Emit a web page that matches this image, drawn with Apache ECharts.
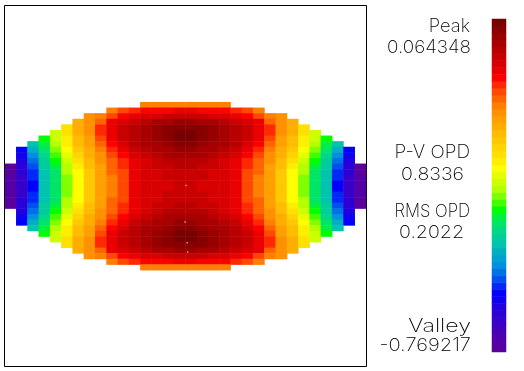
<!DOCTYPE html>
<html>
<head>
<meta charset="utf-8">
<title>OPD map</title>
<script src="https://cdn.jsdelivr.net/npm/echarts@6/dist/echarts.min.js"></script>
<style>
  html, body { margin: 0; padding: 0; background: #fff; }
  #chart { width: 524px; height: 371px; }
</style>
</head>
<body>
<div id="chart"></div>
<script>
// false colour bands, index 0 = valley, index 47 = peak
const bandColors = [
  '#5a009c', '#5400a6', '#4c00b0', '#4200bc', '#3800c8', '#2c00d4', '#2000e0', '#1000f0',
  '#0000ff', '#0028f8', '#0050f0', '#0070e8', '#0090e0', '#00a0d0', '#00b0c0', '#00c4b0',
  '#00cc9c', '#00d888', '#00e468', '#00f040', '#00ff00', '#40ff00', '#80ff00', '#b4ff00',
  '#ccff00', '#e4ff00', '#ffff00', '#ffee00', '#ffe000', '#ffd400', '#ffc800', '#ffbc00',
  '#ffae00', '#ffa000', '#ff9000', '#ff8000', '#ff6400', '#ff4800', '#ff2800', '#ff0000',
  '#ea0000', '#d80000', '#c80000', '#b80000', '#a80000', '#980000', '#880000', '#780000'
];

const gridCols = 32;
const gridRows = 64;
const firstRow = 17; // first row of the map that holds data

// first column filled in each data row
const rowStart = [12, 9, 7, 6, 5, 4, 3, 2, 1, 1, 1, 0, 0, 0, 0, 0, 0, 0, 0, 1, 1, 1, 2, 3, 4, 5, 6, 7, 9, 12];

// colour band of each filled cell
const rowBands = [
  [35, 35, 35, 35, 35, 35, 35, 35],
  [35, 37, 38, 39, 39, 39, 40, 40, 39, 39, 39, 38, 37, 35],
  [34, 35, 37, 39, 40, 41, 41, 42, 42, 42, 42, 41, 41, 40, 39, 37, 35, 34],
  [32, 34, 36, 40, 41, 42, 43, 44, 44, 45, 45, 44, 44, 43, 42, 41, 40, 36, 34, 32],
  [28, 32, 34, 38, 40, 42, 43, 44, 45, 46, 46, 46, 46, 45, 44, 43, 42, 40, 38, 34, 32, 28],
  [24, 28, 32, 34, 38, 40, 42, 43, 44, 45, 46, 47, 47, 46, 45, 44, 43, 42, 40, 38, 34, 32, 28, 24],
  [20, 24, 27, 31, 33, 37, 40, 42, 43, 44, 45, 46, 47, 47, 46, 45, 44, 43, 42, 40, 37, 33, 31, 27, 24, 20],
  [15, 19, 23, 27, 31, 33, 36, 39, 41, 43, 44, 44, 45, 46, 46, 45, 44, 44, 43, 41, 39, 36, 33, 31, 27, 23, 19, 15],
  [8, 14, 18, 22, 26, 30, 32, 35, 38, 40, 42, 43, 44, 44, 45, 45, 44, 44, 43, 42, 40, 38, 35, 32, 30, 26, 22, 18, 14, 8],
  [7, 12, 17, 21, 25, 29, 32, 34, 37, 39, 41, 42, 43, 44, 44, 44, 44, 43, 42, 41, 39, 37, 34, 32, 29, 25, 21, 17, 12, 7],
  [6, 11, 16, 20, 24, 28, 31, 34, 36, 38, 40, 41, 42, 43, 43, 43, 43, 42, 41, 40, 38, 36, 34, 31, 28, 24, 20, 16, 11, 6],
  [0, 5, 10, 16, 19, 23, 27, 31, 33, 36, 38, 40, 41, 42, 42, 43, 43, 42, 42, 41, 40, 38, 36, 33, 31, 27, 23, 19, 16, 10, 5, 0],
  [0, 5, 9, 15, 18, 23, 26, 30, 33, 36, 37, 40, 41, 41, 42, 42, 42, 42, 41, 41, 40, 37, 36, 33, 30, 26, 23, 18, 15, 9, 5, 0],
  [1, 4, 9, 15, 18, 22, 26, 30, 33, 35, 37, 40, 41, 41, 42, 42, 42, 42, 41, 41, 40, 37, 35, 33, 30, 26, 22, 18, 15, 9, 4, 1],
  [1, 4, 8, 15, 18, 22, 26, 30, 33, 35, 37, 40, 41, 41, 41, 42, 42, 41, 41, 41, 40, 37, 35, 33, 30, 26, 22, 18, 15, 8, 4, 1],
  [1, 4, 8, 15, 18, 22, 26, 30, 33, 35, 37, 40, 41, 41, 41, 42, 42, 41, 41, 41, 40, 37, 35, 33, 30, 26, 22, 18, 15, 8, 4, 1],
  [1, 4, 9, 15, 18, 22, 26, 30, 33, 35, 37, 40, 41, 41, 42, 42, 42, 42, 41, 41, 40, 37, 35, 33, 30, 26, 22, 18, 15, 9, 4, 1],
  [0, 5, 9, 15, 18, 23, 26, 30, 33, 36, 37, 40, 41, 41, 42, 42, 42, 42, 41, 41, 40, 37, 36, 33, 30, 26, 23, 18, 15, 9, 5, 0],
  [0, 5, 10, 16, 19, 23, 27, 31, 33, 36, 38, 40, 41, 42, 42, 43, 43, 42, 42, 41, 40, 38, 36, 33, 31, 27, 23, 19, 16, 10, 5, 0],
  [6, 11, 16, 20, 24, 28, 31, 34, 36, 38, 40, 41, 42, 43, 43, 43, 43, 42, 41, 40, 38, 36, 34, 31, 28, 24, 20, 16, 11, 6],
  [7, 12, 17, 21, 25, 29, 32, 34, 37, 39, 41, 42, 43, 44, 44, 44, 44, 43, 42, 41, 39, 37, 34, 32, 29, 25, 21, 17, 12, 7],
  [8, 14, 18, 22, 26, 30, 32, 35, 38, 40, 42, 43, 44, 44, 45, 45, 44, 44, 43, 42, 40, 38, 35, 32, 30, 26, 22, 18, 14, 8],
  [15, 19, 23, 27, 31, 33, 36, 39, 41, 43, 44, 44, 45, 46, 46, 45, 44, 44, 43, 41, 39, 36, 33, 31, 27, 23, 19, 15],
  [20, 24, 27, 31, 33, 37, 40, 42, 43, 44, 45, 46, 47, 47, 46, 45, 44, 43, 42, 40, 37, 33, 31, 27, 24, 20],
  [24, 28, 32, 34, 38, 40, 42, 43, 44, 45, 46, 47, 47, 46, 45, 44, 43, 42, 40, 38, 34, 32, 28, 24],
  [28, 32, 34, 38, 40, 42, 43, 44, 45, 46, 46, 46, 46, 45, 44, 43, 42, 40, 38, 34, 32, 28],
  [32, 34, 36, 40, 41, 42, 43, 44, 44, 45, 45, 44, 44, 43, 42, 41, 40, 36, 34, 32],
  [34, 35, 37, 39, 40, 41, 41, 42, 42, 42, 42, 41, 41, 40, 39, 37, 35, 34],
  [35, 37, 38, 39, 39, 39, 40, 40, 39, 39, 39, 38, 37, 35],
  [35, 35, 35, 35, 35, 35, 35, 35]
];

// small white specks near the centre line, in column / row units
const speckCols = [16.05, 15.96, 16.15, 16.2];
const speckRows = [31.9, 38.4, 42.05, 43.7];

const readoutTexts = ['Peak', '0.064348', 'P-V OPD', '0.8336', 'RMS OPD', '0.2022', 'Valley', '-0.769217'];
const readoutX = [470, 471, 470, 464, 470, 464, 471, 471];
const readoutY = [27, 48, 153, 175, 212, 233, 327, 346];
const readoutStretch = [1.02, 1.05, 1.05, 1.09, 0.93, 1.09, 1.29, 1.12]; // the original lettering is evenly spaced

const cells = [];
rowBands.forEach((row, r) => {
  row.forEach((band, i) => {
    cells.push([rowStart[r] + i, firstRow + r, band]);
  });
});

const colIndex = Array.from({ length: gridCols }, (_, i) => i);
const rowIndex = Array.from({ length: gridRows }, (_, i) => i);
const bandIndex = bandColors.map((_, i) => i);

const chart = echarts.init(document.getElementById('chart'), null, { renderer: 'canvas' });

chart.setOption({
  animation: false,
  backgroundColor: '#fff',
  grid: [
    { left: 5, top: 7, width: 361, height: 358.4 },
    { left: 492, top: 19, width: 14, height: 333 },
    // frame, also carries the specks
    { left: 4.5, top: 5.5, width: 362, height: 361, show: true, borderColor: '#000', borderWidth: 1, backgroundColor: '#fff' }
  ],
  xAxis: [
    { type: 'category', gridIndex: 0, data: colIndex, show: false },
    { type: 'category', gridIndex: 1, data: [0], show: false },
    { type: 'value', gridIndex: 2, min: 0, max: gridCols, show: false }
  ],
  yAxis: [
    { type: 'category', gridIndex: 0, data: rowIndex, inverse: true, show: false },
    { type: 'category', gridIndex: 1, data: bandIndex, show: false },
    { type: 'value', gridIndex: 2, min: 0, max: gridRows, inverse: true, show: false }
  ],
  visualMap: {
    show: false,
    type: 'piecewise',
    dimension: 2,
    seriesIndex: [0, 1],
    pieces: bandColors.map((color, i) => ({ value: i, color: color }))
  },
  series: [
    {
      type: 'heatmap',
      xAxisIndex: 0,
      yAxisIndex: 0,
      data: cells,
      progressive: 0,
      emphasis: { disabled: true }
    },
    {
      type: 'heatmap',
      xAxisIndex: 1,
      yAxisIndex: 1,
      data: bandIndex.map(i => [0, i, i]),
      progressive: 0,
      emphasis: { disabled: true }
    },
    {
      type: 'scatter',
      xAxisIndex: 2,
      yAxisIndex: 2,
      symbolSize: 1.5,
      itemStyle: { color: '#fff' },
      data: speckCols.map((c, i) => [c, speckRows[i]]),
      silent: true
    }
  ],
  graphic: readoutTexts.map((text, i) => ({
    type: 'text',
    x: readoutX[i],
    y: readoutY[i],
    scaleX: readoutStretch[i],
    style: {
      text: text,
      fill: '#000',
      font: '200 18px Inter',
      align: 'right',
      verticalAlign: 'middle'
    }
  }))
});
</script>
</body>
</html>
